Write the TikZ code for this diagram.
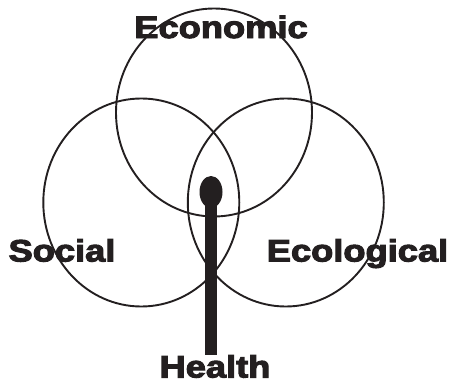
\documentclass[tikz,border=0pt]{standalone}
\usepackage{fontspec}
\usepackage{graphicx}
\usetikzlibrary{shapes.geometric}
\newfontfamily\heavyfont{Liberation Sans}[BoldFeatures={FakeBold=3.2}]
\definecolor{ink}{HTML}{231F20}

\begin{document}
\begin{tikzpicture}[x=1pt,y=-1pt,
  ring/.style={ellipse,draw=ink,line width=1.9pt,minimum width=196pt,minimum height=208pt,inner sep=0pt},
  word/.style={anchor=base,text=ink,inner sep=0pt,font=\heavyfont\bfseries\fontsize{31}{31}\selectfont}]
\useasboundingbox (0,0) rectangle (451,383);
% the three spheres
\node [ring] (econ) at (214,112.5) {};
\node [ring] (soc) at (141.3,202.5) {};
\node [ring] (ecol) at (285.8,202.5) {};
% labels
\node [word] (economic) at (221,38) {\scalebox{1.17}[1]{Economic}};
\node [word] (social) at (62,261.5) {\scalebox{1.17}[1]{Social}};
\node [word] (ecological) at (357.5,261.5) {\scalebox{1.17}[1]{Ecological}};
\node [word] (health) at (215,377.5) {\scalebox{1.17}[1]{Health}};
% the stem
\node [ellipse,fill=ink,minimum width=23pt,minimum height=32pt,inner sep=0pt] (head) at (211,192) {};
\coordinate (foot) at (211,355);
\draw [ink,line width=12pt] (head.center) -- (foot);
\end{tikzpicture}
\end{document}
